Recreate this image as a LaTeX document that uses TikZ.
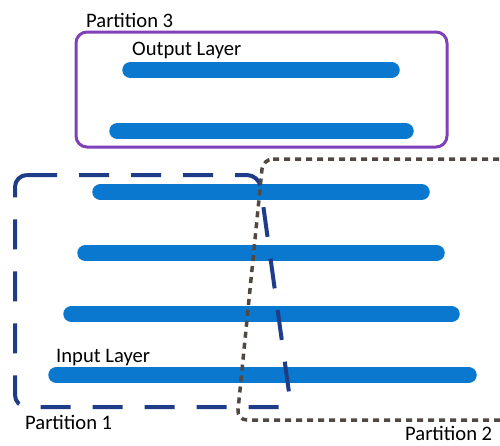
\documentclass[tikz,border=0pt]{standalone}
\usepackage{fontspec}
\setmainfont{Carlito}
\usepackage{xcolor}
\definecolor{lblue}{HTML}{0A78CE}
\definecolor{pnavy}{HTML}{1F3C88}
\definecolor{ppurple}{HTML}{8040B8}
\definecolor{pgray}{HTML}{514843}

\begin{document}
\begin{tikzpicture}[
  x=1pt,y=-1pt,
  lbl/.style={anchor=base west,inner sep=0pt,font=\fontsize{20.6}{22}\selectfont},
  bar/.style={draw=lblue,line width=16.5pt,line cap=round},
  pone/.style={draw=pnavy,line width=4pt,rounded corners=12pt,dash pattern=on 30pt off 22pt},
  ptwo/.style={draw=pgray,line width=3.5pt,rounded corners=10pt,dash pattern=on 6pt off 5pt},
  pthree/.style={draw=ppurple,line width=3pt,rounded corners=11pt}
]
\useasboundingbox (0,0) rectangle (500,445);
\clip (0,0) rectangle (500,445);

% layers: y / left end / right end
\foreach \y/\l/\r in {70/130.5/391.5, 131/117.5/405.5, 192/100.5/421.5,
                      253/85.5/436.5, 314/71.5/451.5, 375/56.5/468.5}
  {\draw[bar] (\l,\y) -- (\r,\y);}

% partitions
\draw[pthree] (76,32) rectangle (447,147);
\draw[pone] (15,175) -- (259,175) -- (291,407) -- (15,407) -- cycle;
\draw[ptwo] (263,159) -- (530,159) -- (530,420) -- (237,420) -- cycle;

\node[lbl] (p3) at (86,27) {Partition 3};
\node[lbl] (outl) at (132,55) {Output Layer};
\node[lbl] (inl) at (56,362) {Input Layer};
\node[lbl] (p1) at (25,429) {Partition 1};
\node[lbl] (p2) at (405,440) {Partition 2};
\end{tikzpicture}
\end{document}
